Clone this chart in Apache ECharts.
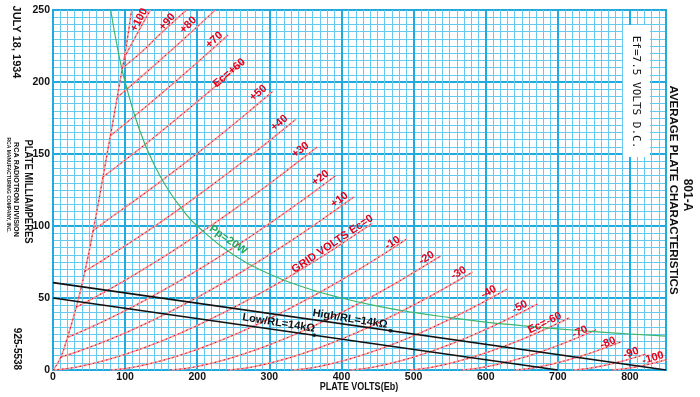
<!DOCTYPE html>
<html><head><meta charset="utf-8">
<script src="https://cdn.jsdelivr.net/npm/echarts@6/dist/echarts.min.js"></script>
<style>html,body{margin:0;padding:0;background:#fff}#c{width:700px;height:397px}</style>
</head><body><div id="c"></div>
<script>
// ---- data (plate volts, plate mA) ----
const xTickLabels = [0,100,200,300,400,500,600,700,800];
const yTickLabels = [0,50,100,150,200,250];

const diodeLine = [[0,0],[10,8],[19,21],[33,45],[44,68],[55,95],[65,122],[75,150],[84,175],[92,198],[100,220],[109,250]];
const ecP100 = [[99,217],[115,232],[135,250]];
const ecP90  = [[95.5,209.5],[121,220],[148,233],[174,245],[185,250]];
const ecP80  = [[89,189.3],[120,202.6],[150,215.8],[180,229.2],[225,250]];
const ecP70  = [[79.5,162.6],[110,175.1],[140,187.6],[174,202.2],[210,218],[243,232.8]];
const ecP60  = [[69,134],[100,145.8],[140,161.6],[180,178],[220,194.8],[264,214]];
const ecP50  = [[55,96.5],[80,105.8],[120,120.1],[160,135],[200,150.4],[240,166.4],[280,183],[305,193.6]];
const ecP40  = [[44,68.6],[70,76.6],[110,89.5],[150,103],[190,117.2],[230,132],[270,147.3],[310,163.2],[337,174.2]];
const ecP30  = [[32,43.5],[60,51],[100,62.3],[140,74.4],[180,87.2],[220,100.6],[260,114.7],[300,129.3],[340,144.6],[366,154.8]];
const ecP20  = [[21,22.8],[50,29.1],[90,38.7],[130,49.1],[170,60.3],[210,72.2],[250,84.9],[290,98.2],[330,112.2],[360,123],[392,135]];
const ecP10  = [[11,9],[40,13.8],[80,21.5],[120,30.2],[160,39.9],[200,50.4],[240,61.7],[280,73.8],[320,86.5],[360,99.9],[417,120.1]];
const ec0    = [[0,0],[20,1],[40,2.8],[70,6.4],[100,10.9],[140,18.1],[180,26.4],[220,35.7],[260,45.9],[300,56.8],[340,68.6],[380,81],[420,94.2],[443,102]];
const ecM10  = [[80,0],[100,1],[120,2.8],[150,6.4],[180,10.9],[220,18.1],[260,26.4],[300,35.7],[340,45.9],[380,56.8],[420,68.6],[460,81],[491,91.2]];
const ecM20  = [[163,0],[183,1],[203,2.8],[233,6.4],[263,10.9],[303,18.1],[343,26.4],[383,35.7],[423,45.9],[463,56.8],[503,68.6],[538,79.3]];
const ecM30  = [[243,0],[263,1],[283,2.8],[313,6.4],[343,10.9],[383,18.1],[423,26.4],[463,35.7],[503,45.9],[543,56.8],[582,68.1]];
const ecM40  = [[332,0],[352,1],[372,2.8],[402,6.4],[432,10.9],[472,18.1],[512,26.4],[552,35.7],[592,45.9],[629,56]];
const ecM50  = [[412,0],[432,1],[452,2.8],[482,6.4],[512,10.9],[552,18.1],[592,26.4],[632,35.7],[672,45.9]];
const ecM60  = [[494,0],[514,1],[534,2.8],[564,6.4],[594,10.9],[624,16.2],[654,22.1],[684,28.7],[716,36.2]];
const ecM70  = [[566,0],[586,1],[606,2.8],[626,5.1],[646,7.8],[666,10.9],[686,14.4],[716,20.1],[753,28]];
const ecM80  = [[640,0],[660,1],[680,2.8],[700,5.1],[720,7.8],[740,10.9],[760,14.4],[788,19.6]];
const ecM90  = [[721,0],[741,1],[761,2.8],[781,5.1],[801,7.8],[822,11.1]];
const ecM100 = [[775,0],[795,1],[815,2.8],[835,5.1],[851,7.2]];

const pp20W = [[80,250],[90,222.2],[100,200],[120,166.7],[140,142.9],[160,125],[180,111.1],[200,100],[250,80],[300,66.7],[350,57.1],[400,50],[450,44.4],[500,40],[550,36.4],[600,33.3],[650,30.8],[700,28.6],[750,26.7],[800,25],[850,23.5]];
const loadHigh = [[0,60.7],[850,0]];
const loadLow  = [[0,50],[700,0]];
const loadDots = [[362,24.1],[468,27.3]];

const curveList = [diodeLine,ecP100,ecP90,ecP80,ecP70,ecP60,ecP50,ecP40,ecP30,ecP20,ecP10,ec0,ecM10,ecM20,ecM30,ecM40,ecM50,ecM60,ecM70,ecM80,ecM90,ecM100];

// curve labels: text, anchor volts, anchor mA, angle (deg)
const curveLabels = [
  ['+100',119.4,243.1,62],['+90',158.3,241.7,48],['+80',187.5,239.6,45],['+70',223.6,229.2,42],
  ['Ec=+60',244.4,206.3,40],['+50',284.7,192.4,40],['+40',313.9,171.5,40],['+30',343.1,152.8,38],
  ['+20',370.8,133.3,37],['+10',397.2,118.1,36],['GRID VOLTS Ec=0',387.5,87.5,34],['-10',470.8,88.2,33],
  ['-20',518,77.8,32],['-30',562.5,67.4,30],['-40',604.2,54.2,29],['-50',647.2,43.8,28],
  ['Ec=-60',681.9,32.6,26],['-70',730.6,26.4,24],['-80',769.4,18.8,22],['-90',801.4,11.8,20],['-100',831.9,8.3,17]
];
const otherLabels = [
  ['Pp=20W',243,90.3,-35,'#2aa65c'],
  ['High/RL=14kΩ',412,35.4,-9,'#111'],
  ['Low/RL=14kΩ',313,32.6,-9,'#111']
];

// ---- chart ----
const chart = echarts.init(document.getElementById('c'), null, {renderer:'canvas'});
const MAJ = '#22aadf', MIN = '#66caee';
const tickFont = {color:'#111', fontWeight:'bold', fontSize:10.5, fontFamily:'Liberation Sans, Arial, sans-serif'};

const series = [];
curveList.forEach(d => {
  series.push({type:'line', data:d, smooth:true, showSymbol:false, silent:true, z:3,
    lineStyle:{color:'#f5a0a0', width:1.7}});
  series.push({type:'line', data:d, smooth:true, showSymbol:false, silent:true, z:4,
    lineStyle:{color:'#e3001b', width:1, type:[1.5,3]}});
});
series.push({type:'line', data:pp20W, smooth:true, showSymbol:false, z:5, lineStyle:{color:'#3db56b', width:1.2}});
series.push({type:'line', data:loadHigh, showSymbol:false, z:6, lineStyle:{color:'#111', width:1.6}});
series.push({type:'line', data:loadLow, showSymbol:false, z:6, lineStyle:{color:'#111', width:1.6}});
series.push({type:'scatter', data:loadDots, symbolSize:4, z:7, itemStyle:{color:'#111'}});

chart.setOption({
  animation:false,
  backgroundColor:'#fff',
  grid:{left:53, top:10, width:613, height:360, show:true, borderColor:MAJ, borderWidth:2, backgroundColor:'#fff',
        containLabel:false, outerBoundsMode:'none'},
  xAxis:[
    {type:'value', position:'bottom', min:0, max:850, interval:10, axisLabel:{show:false}, axisTick:{show:false}, axisLine:{show:false},
     splitLine:{show:true, lineStyle:{color:MIN, width:1}}},
    {type:'value', position:'bottom', offset:0, min:0, max:850, interval:100, axisTick:{show:false}, axisLine:{show:false},
     axisLabel:Object.assign({margin:2, formatter:v => xTickLabels.indexOf(v)>=0 ? String(v) : ''}, tickFont),
     splitLine:{show:true, lineStyle:{color:MAJ, width:2}}}
  ],
  yAxis:[
    {type:'value', position:'left', min:0, max:250, interval:5, axisLabel:{show:false}, axisTick:{show:false}, axisLine:{show:false},
     splitLine:{show:true, lineStyle:{color:MIN, width:1}}},
    {type:'value', position:'left', offset:0, min:0, max:250, interval:50, axisTick:{show:false}, axisLine:{show:false},
     axisLabel:Object.assign({margin:3, formatter:v => yTickLabels.indexOf(v)>=0 ? String(v) : ''}, tickFont),
     splitLine:{show:true, lineStyle:{color:MAJ, width:2}}}
  ],
  series: series.map(s => Object.assign({xAxisIndex:0, yAxisIndex:0}, s))
});

const rad = d => d*Math.PI/180;
const graphics = [];
curveLabels.forEach(([t,v,i,a]) => {
  const p = chart.convertToPixel({xAxisIndex:0, yAxisIndex:0}, [v,i]);
  graphics.push({type:'text', x:p[0], y:p[1], rotation:rad(a), z:20,
    style:{text:t, fill:'#e3001b', font:'bold 11px "Liberation Sans", Arial, sans-serif', textAlign:'center', textVerticalAlign:'middle'}});
});
otherLabels.forEach(([t,v,i,a,c]) => {
  const p = chart.convertToPixel({xAxisIndex:0, yAxisIndex:0}, [v,i]);
  graphics.push({type:'text', x:p[0], y:p[1], rotation:rad(a), z:20,
    style:{text:t, fill:c, font:'bold 11px "Liberation Sans", Arial, sans-serif', textAlign:'center', textVerticalAlign:'middle'}});
});
const side = (t,x,y,font,sx) => ({type:'text', x:x, y:y, rotation:-Math.PI/2, scaleX:sx||1, z:20,
  style:{text:t, fill:'#111', font:font, textAlign:'center', textVerticalAlign:'middle'}});
graphics.push({type:'rect', shape:{x:623, y:25, width:27, height:132}, style:{fill:'#fff'}, z:15});
graphics.push(side('Ef=7.5 VOLTS D.C.', 636, 92, '11px "DejaVu Sans Mono", monospace'));
graphics.push(side('JULY 18, 1934', 16, 42, 'bold 11px "Liberation Sans", Arial, sans-serif'));
graphics.push(side('PLATE MILLIAMPERES', 28, 191.5, 'bold 11.5px "Liberation Sans", Arial, sans-serif', 0.82));
graphics.push(side('RCA RADIOTRON DIVISION', 16.5, 189.5, 'bold 8px "Liberation Sans", Arial, sans-serif', 0.9));
graphics.push(side('RCA MANUFACTURING COMPANY, INC.', 8, 185, 'bold 5px "Liberation Sans", Arial, sans-serif'));
graphics.push(side('925-5538', 16.5, 349, 'bold 10px "Liberation Sans", Arial, sans-serif'));
graphics.push(side('801-A', 687, 195, 'bold 12px "Liberation Sans", Arial, sans-serif'));
graphics.push(side('AVERAGE PLATE CHARACTERISTICS', 673, 190, 'bold 11.5px "Liberation Sans", Arial, sans-serif'));
graphics.push({type:'text', x:359, y:386.5, scaleX:0.82, z:20,
  style:{text:'PLATE VOLTS(Eb)', fill:'#111', font:'bold 11px "Liberation Sans", Arial, sans-serif', textAlign:'center', textVerticalAlign:'middle'}});
chart.setOption({graphic: graphics});
</script></body></html>
